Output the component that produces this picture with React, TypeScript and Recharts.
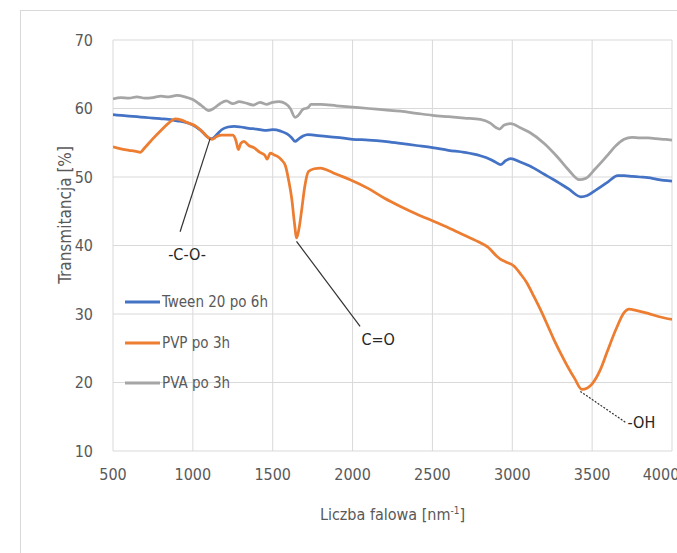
import React from 'react';
import {
  LineChart,
  Line,
  XAxis,
  YAxis,
  CartesianGrid,
  Legend,
  ReferenceLine,
  ReferenceDot,
} from 'recharts';

// ---- tick labels ----
const X_TICKS = [500, 1000, 1500, 2000, 2500, 3000, 3500, 4000];
const Y_TICKS = [10, 20, 30, 40, 50, 60, 70];

// ---- series names & colours ----
const SERIES_NAMES = ['Tween 20 po 6h', 'PVP po 3h', 'PVA po 3h'];
const SERIES_COLORS = ['#4472C4', '#ED7D31', '#A5A5A5'];

// ---- series values: [wavenumber, transmittance] ----
const tween: number[][] = [
  [500, 59.1], [550, 59.0], [600, 58.9], [650, 58.8], [700, 58.7], [750, 58.6], [800, 58.5],
  [850, 58.4], [900, 58.2], [950, 58.0], [1000, 57.6], [1050, 56.8], [1100, 55.7], [1120, 55.6],
  [1150, 56.2], [1180, 56.9], [1220, 57.3], [1260, 57.4], [1300, 57.3], [1350, 57.1], [1400, 57.0],
  [1450, 56.8], [1500, 56.9], [1550, 56.7], [1590, 56.3], [1620, 55.7], [1640, 55.2], [1660, 55.5],
  [1690, 56.0], [1720, 56.2], [1760, 56.1], [1800, 56.0], [1900, 55.8], [2000, 55.5], [2100, 55.4],
  [2200, 55.2], [2300, 54.9], [2400, 54.6], [2500, 54.3], [2600, 53.9], [2700, 53.6], [2800, 53.1],
  [2860, 52.6], [2900, 52.1], [2925, 51.8], [2960, 52.4], [2990, 52.7], [3050, 52.2], [3110, 51.6],
  [3200, 50.4], [3260, 49.6], [3350, 48.3], [3430, 47.1], [3470, 47.3], [3530, 48.2], [3600, 49.3],
  [3660, 50.2], [3700, 50.2], [3750, 50.1], [3800, 50.0], [3850, 49.9], [3900, 49.7], [3950, 49.5],
  [4000, 49.4],
];

const pvp: number[][] = [
  [500, 54.4], [550, 54.1], [600, 53.9], [650, 53.7], [670, 53.6], [700, 54.3], [750, 55.6],
  [800, 56.8], [850, 57.9], [890, 58.5], [930, 58.3], [970, 57.9], [1020, 57.4], [1060, 56.6],
  [1100, 55.7], [1120, 55.5], [1150, 55.9], [1180, 56.1], [1220, 56.1], [1250, 56.1], [1270, 55.3],
  [1285, 54.0], [1300, 54.9], [1320, 55.2], [1350, 54.6], [1380, 54.3], [1420, 53.6], [1450, 53.2],
  [1465, 52.6], [1485, 53.5], [1510, 53.2], [1530, 53.0], [1555, 52.5], [1580, 51.6], [1600, 49.5],
  [1620, 46.7], [1635, 43.5], [1650, 41.1], [1665, 42.5], [1682, 45.3], [1700, 48.5], [1724, 50.8],
  [1760, 51.2], [1800, 51.3], [1850, 50.9], [1900, 50.4], [1985, 49.6], [2100, 48.3], [2200, 46.9],
  [2300, 45.7], [2400, 44.6], [2500, 43.6], [2600, 42.6], [2700, 41.5], [2800, 40.4], [2850, 39.7],
  [2900, 38.5], [2925, 38.0], [2960, 37.6], [3010, 37.0], [3050, 35.9], [3090, 34.6], [3130, 32.8],
  [3175, 30.7], [3220, 28.4], [3260, 26.3], [3300, 24.4], [3345, 22.4], [3390, 20.6], [3436, 19.0],
  [3470, 19.2], [3500, 19.8], [3550, 21.8], [3593, 24.4], [3650, 27.8], [3700, 30.2], [3730, 30.7],
  [3780, 30.5], [3850, 30.1], [3920, 29.6], [4000, 29.2],
];

const pva: number[][] = [
  [500, 61.4], [550, 61.6], [600, 61.5], [650, 61.7], [700, 61.5], [750, 61.6], [800, 61.8],
  [850, 61.7], [900, 61.9], [950, 61.7], [1000, 61.3], [1050, 60.5], [1100, 59.7], [1130, 60.0],
  [1170, 60.7], [1210, 61.1], [1250, 60.7], [1290, 61.0], [1330, 60.8], [1380, 60.5], [1420, 60.9],
  [1460, 60.6], [1500, 60.9], [1540, 61.0], [1580, 60.7], [1610, 60.0], [1640, 58.7], [1660, 59.0],
  [1690, 59.9], [1720, 60.1], [1740, 60.6], [1800, 60.6], [1900, 60.4], [2000, 60.2], [2100, 60.0],
  [2200, 59.8], [2300, 59.6], [2400, 59.3], [2500, 59.0], [2600, 58.8], [2700, 58.6], [2800, 58.4],
  [2860, 57.9], [2900, 57.2], [2920, 57.0], [2950, 57.6], [2990, 57.8], [3050, 57.2], [3110, 56.5],
  [3200, 54.9], [3280, 53.0], [3350, 51.1], [3420, 49.6], [3460, 49.8], [3520, 51.2], [3590, 53.0],
  [3650, 54.6], [3700, 55.5], [3750, 55.8], [3800, 55.7], [3850, 55.7], [3900, 55.6], [3950, 55.5],
  [4000, 55.4],
];

// ---- annotations: [x1, y1, x2, y2] pointer segments and label anchors ----
const ANNOT_LINES: { seg: number[]; dashed: boolean }[] = [
  { seg: [1108, 55.6, 920, 42.0], dashed: false },
  { seg: [1649, 40.6, 2047, 28.2], dashed: false },
  { seg: [3426, 18.7, 3708, 14.2], dashed: true },
];
const ANNOT_TEXTS: { text: string; x: number; y: number }[] = [
  { text: '-C-O-', x: 964, y: 38.7 },
  { text: 'C=O', x: 2160, y: 26.3 },
  { text: '-OH', x: 3808, y: 14.2 },
];

const toPts = (arr: number[][]) => arr.map(([x, y]) => ({ x, y }));
const SERIES = [
  { name: SERIES_NAMES[0], color: SERIES_COLORS[0], data: toPts(tween) },
  { name: SERIES_NAMES[1], color: SERIES_COLORS[1], data: toPts(pvp) },
  { name: SERIES_NAMES[2], color: SERIES_COLORS[2], data: toPts(pva) },
];
const DRAW_ORDER = [2, 0, 1];

const FONT = "'Liberation Sans Narrow', 'DejaVu Sans Condensed', 'Open Sans', sans-serif";
const TXT = '#595959';

const LegendContent = () => (
  <div style={{ fontFamily: FONT, fontSize: 15, color: TXT }}>
    {SERIES.map((s) => (
      <div key={s.name} style={{ height: 40.5, display: 'flex', alignItems: 'center' }}>
        <svg width={37} height={6} style={{ display: 'block' }}>
          <line x1={0} y1={3} x2={35} y2={3} stroke={s.color} strokeWidth={3} />
        </svg>
        <span style={{ whiteSpace: 'nowrap' }}>{s.name}</span>
      </div>
    ))}
  </div>
);

const XTitle = (props: any) => {
  const vb = props.viewBox;
  const cx = vb.x + vb.width / 2;
  return (
    <text x={cx} y={vb.y + 69} textAnchor="middle" fill={TXT} fontFamily={FONT} fontSize={16}>
      <tspan>Liczba falowa [nm</tspan>
      <tspan dy={-6} fontSize={10}>-1</tspan>
      <tspan dy={6}>]</tspan>
    </text>
  );
};

const YTitle = () => {
  const x = 65;
  const y = 215;
  return (
    <text
      x={x}
      y={y}
      transform={`rotate(-90, ${x}, ${y})`}
      textAnchor="middle"
      dominantBaseline="central"
      fill={TXT}
      fontFamily={FONT}
      fontSize={17}
    >
      Transmitancja [%]
    </text>
  );
};

export default function App() {
  return (
    <div
      style={{
        position: 'fixed',
        left: 0,
        top: 0,
        width: 677,
        height: 553,
        overflow: 'hidden',
        background: '#fff',
      }}
    >
      <div
        style={{
          position: 'absolute',
          left: 20,
          top: 10,
          width: 700,
          height: 600,
          border: '1px solid #d9d9d9',
          boxSizing: 'border-box',
        }}
      />
      <div style={{ position: 'absolute', left: 0, top: 0 }}>
        <LineChart width={677} height={553} margin={{ top: 40, right: 5, bottom: 32, left: 53 }}>
          <CartesianGrid stroke="#d9d9d9" strokeWidth={1} />
          <XAxis
            type="number"
            dataKey="x"
            domain={[500, 4000]}
            ticks={X_TICKS}
            allowDataOverflow
            axisLine={false}
            tickLine={false}
            tickSize={0}
            tickMargin={18}
            height={70}
            tick={{ fill: TXT, fontSize: 16, fontFamily: FONT }}
            label={<XTitle />}
          />
          <YAxis
            type="number"
            domain={[10, 70]}
            ticks={Y_TICKS}
            allowDataOverflow
            axisLine={false}
            tickLine={false}
            tickSize={0}
            tickMargin={20}
            width={60}
            tick={{ fill: TXT, fontSize: 16, fontFamily: FONT }}
            label={<YTitle />}
          />
          <Legend
            layout="horizontal"
            verticalAlign="middle"
            align="center"
            content={<LegendContent />}
            wrapperStyle={{ position: 'absolute', left: 125, top: 282, width: 160, height: 125 }}
          />
          {DRAW_ORDER.map((i) => (
            <Line
              key={SERIES[i].name}
              name={SERIES[i].name}
              data={SERIES[i].data}
              dataKey="y"
              type="monotone"
              stroke={SERIES[i].color}
              strokeWidth={2.75}
              dot={false}
              activeDot={false}
              isAnimationActive={false}
            />
          ))}
          {ANNOT_LINES.map((a, i) => (
            <ReferenceLine
              key={'l' + i}
              segment={[
                { x: a.seg[0], y: a.seg[1] },
                { x: a.seg[2], y: a.seg[3] },
              ]}
              stroke="#333333"
              strokeWidth={1.2}
              strokeDasharray={a.dashed ? '2 1.5' : undefined}
              ifOverflow="visible"
            />
          ))}
          {ANNOT_TEXTS.map((t, i) => (
            <ReferenceDot
              key={'t' + i}
              x={t.x}
              y={t.y}
              r={0}
              fill="none"
              stroke="none"
              ifOverflow="visible"
              label={{ value: t.text, position: 'center', fill: '#262626', fontSize: 16, fontFamily: FONT }}
            />
          ))}
        </LineChart>
      </div>
    </div>
  );
}
